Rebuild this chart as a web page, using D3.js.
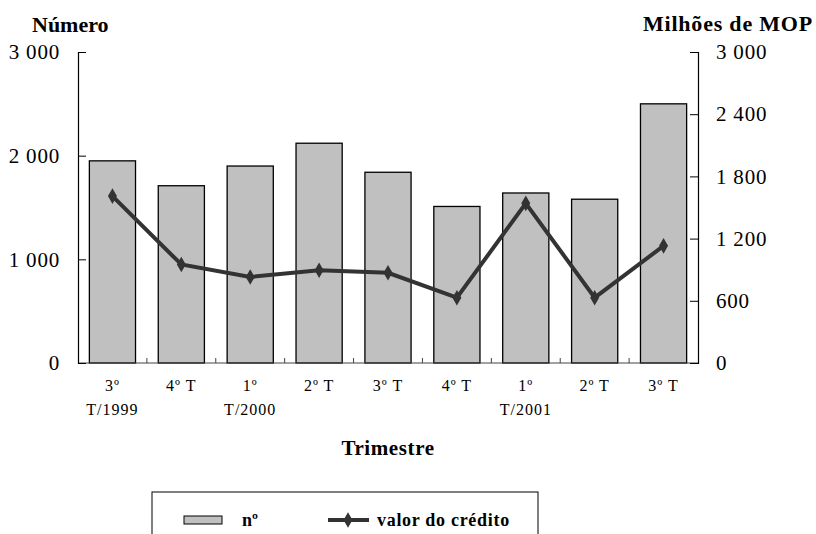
<!DOCTYPE html>
<html>
<head>
<meta charset="utf-8">
<script src="https://cdn.jsdelivr.net/npm/d3@7"></script>
<style>
  body { margin: 0; background: #fff; }
  svg text { font-family: "Liberation Serif", "Times New Roman", Times, serif; }
</style>
</head>
<body>
<script>
const width = 816;
const height = 534;

// data
const quarters = ["3º|T/1999", "4º T", "1º|T/2000", "2º T", "3º T", "4º T", "1º|T/2001", "2º T", "3º T"];
const numero = [1950, 1710, 1900, 2120, 1840, 1510, 1640, 1580, 2500];
const valorCredito = [1610, 950, 830, 895, 870, 630, 1540, 630, 1130];
const leftTicks = [0, 1000, 2000, 3000];
const rightTicks = [0, 600, 1200, 1800, 2400, 3000];

const margin = {top: 52, right: 118, bottom: 171, left: 78};

const svg = d3.select("body").append("svg")
  .attr("width", width)
  .attr("height", height)
  .attr("font-family", "Liberation Serif");

// quarter names repeat, so the band scale is keyed by index
const idx = d3.range(quarters.length);

const x = d3.scaleBand()
  .domain(idx)
  .range([margin.left, width - margin.right])
  .paddingInner(0.33)
  .paddingOuter(0.165);

const yLeft = d3.scaleLinear()
  .domain([0, 3000])
  .range([height - margin.bottom, margin.top]);

const yRight = d3.scaleLinear()
  .domain([0, 3000])
  .range([height - margin.bottom, margin.top]);

const cx = i => x(i) + x.bandwidth() / 2;
const fmt = d => d3.format(",")(d).replace(/,/g, " ");

// bars
svg.append("g")
  .selectAll("rect")
  .data(numero)
  .join("rect")
  .attr("x", (d, i) => x(i))
  .attr("y", d => yLeft(d))
  .attr("width", x.bandwidth())
  .attr("height", d => yLeft(0) - yLeft(d))
  .attr("fill", "#c0c0c0")
  .attr("stroke", "#000")
  .attr("stroke-width", 1.3);

// bottom axis, ticks on band boundaries pointing up
const step = x.step();
const boundaries = idx.slice(1).map(i => x(i) - step * x.paddingInner() / 2);
const xAxis = svg.append("g")
  .attr("transform", `translate(0,${yLeft(0)})`);
xAxis.append("line")
  .attr("x1", margin.left).attr("x2", width - margin.right)
  .attr("stroke", "#444").attr("stroke-width", 1.2);
xAxis.selectAll("line.tick")
  .data(boundaries)
  .join("line")
  .attr("class", "tick")
  .attr("x1", d => d).attr("x2", d => d)
  .attr("y1", 0).attr("y2", -5)
  .attr("stroke", "#444");

const labels = svg.append("g")
  .selectAll("text")
  .data(idx)
  .join("text")
  .attr("text-anchor", "middle")
  .attr("font-size", 16)
  .attr("letter-spacing", 1)
  .attr("fill", "#000");
labels.each(function(i) {
  const t = d3.select(this);
  quarters[i].split("|").forEach((p, j) => {
    t.append("tspan")
      .attr("x", cx(i))
      .attr("y", yLeft(0) + 28 + j * 24)
      .text(p);
  });
});

// left axis
const gl = svg.append("g")
  .attr("transform", `translate(${margin.left},0)`)
  .call(d3.axisRight(yLeft).tickValues(leftTicks).tickSize(8).tickFormat(fmt));
gl.attr("font-family", null);
gl.select(".domain").attr("stroke", "#000").attr("stroke-width", 1.2);
gl.selectAll(".tick line").attr("stroke", "#000");
gl.selectAll(".tick text")
  .attr("x", -18)
  .attr("text-anchor", "end")
  .attr("font-size", 21)
  .attr("letter-spacing", 0.8)
  .attr("fill", "#000");

// right axis
const gr = svg.append("g")
  .attr("transform", `translate(${width - margin.right},0)`)
  .call(d3.axisLeft(yRight).tickValues(rightTicks).tickSize(8).tickFormat(fmt));
gr.attr("font-family", null);
gr.select(".domain").attr("stroke", "#000").attr("stroke-width", 1.2);
gr.selectAll(".tick line").attr("stroke", "#000");
gr.selectAll(".tick text")
  .attr("x", 18)
  .attr("text-anchor", "start")
  .attr("font-size", 21)
  .attr("letter-spacing", 0.8)
  .attr("fill", "#000");

// line
const line = d3.line()
  .x((d, i) => cx(i))
  .y(d => yRight(d));

svg.append("path")
  .datum(valorCredito)
  .attr("d", line)
  .attr("fill", "none")
  .attr("stroke", "#333")
  .attr("stroke-width", 4);

const diamond = d3.symbol().type(d3.symbolDiamond).size(70);
svg.append("g")
  .selectAll("path")
  .data(valorCredito)
  .join("path")
  .attr("d", diamond)
  .attr("transform", (d, i) => `translate(${cx(i)},${yRight(d)})`)
  .attr("fill", "#333");

// axis titles
svg.append("text")
  .attr("x", 32).attr("y", 32)
  .attr("font-size", 22).attr("font-weight", "bold")
  .text("Número");
svg.append("text")
  .attr("x", 813).attr("y", 31)
  .attr("text-anchor", "end")
  .attr("font-size", 22).attr("font-weight", "bold")
  .attr("letter-spacing", 0.8)
  .text("Milhões de MOP");
svg.append("text")
  .attr("x", (margin.left + width - margin.right) / 2).attr("y", 455)
  .attr("text-anchor", "middle")
  .attr("font-size", 21).attr("font-weight", "bold")
  .attr("letter-spacing", 0.6)
  .text("Trimestre");

// legend
const legend = svg.append("g");
legend.append("rect")
  .attr("x", 152).attr("y", 492)
  .attr("width", 386).attr("height", 60)
  .attr("fill", "#fff").attr("stroke", "#000").attr("stroke-width", 1);
legend.append("rect")
  .attr("x", 184).attr("y", 516)
  .attr("width", 38).attr("height", 8)
  .attr("fill", "#c0c0c0").attr("stroke", "#000").attr("stroke-width", 1);
legend.append("text")
  .attr("x", 242).attr("y", 526)
  .attr("font-size", 18).attr("font-weight", "bold")
  .text("nº");
legend.append("line")
  .attr("x1", 328).attr("x2", 369).attr("y1", 520).attr("y2", 520)
  .attr("stroke", "#333").attr("stroke-width", 4);
legend.append("path")
  .attr("d", diamond)
  .attr("transform", "translate(348,520)")
  .attr("fill", "#333");
legend.append("text")
  .attr("x", 377).attr("y", 526)
  .attr("font-size", 18).attr("font-weight", "bold")
  .attr("letter-spacing", 0.7)
  .text("valor do crédito");
</script>
</body>
</html>
